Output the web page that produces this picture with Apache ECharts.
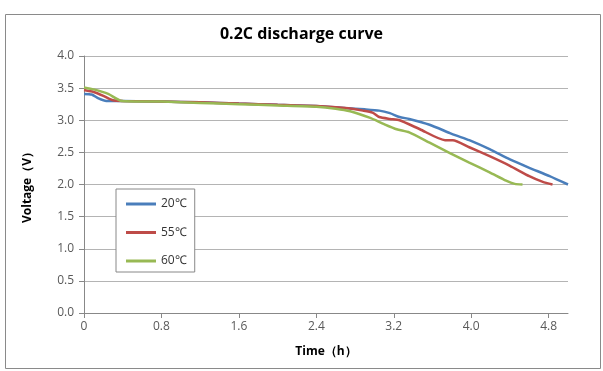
<!DOCTYPE html>
<html>
<head>
<meta charset="utf-8">
<script src="https://cdn.jsdelivr.net/npm/echarts@6/dist/echarts.min.js"></script>
<style>html,body{margin:0;padding:0;background:#fff}#c{width:603px;height:371px}</style>
</head>
<body>
<div id="c"></div>
<script>
const xTicks = [0, 0.8, 1.6, 2.4, 3.2, 4.0, 4.8];
const yTicks = [0, 0.5, 1.0, 1.5, 2.0, 2.5, 3.0, 3.5, 4.0];

const t20 = [0, 0.08, 0.15, 0.23, 0.4, 0.8, 1.2, 1.6, 2.0, 2.4, 2.7, 2.9, 3.05, 3.16, 3.26, 3.36, 3.57, 3.78, 3.85, 3.98, 4.19, 4.40, 4.60, 4.81, 5.0];
const v20 = [3.41, 3.40, 3.34, 3.30, 3.30, 3.29, 3.28, 3.26, 3.24, 3.22, 3.19, 3.17, 3.15, 3.11, 3.05, 3.02, 2.93, 2.80, 2.76, 2.69, 2.55, 2.39, 2.26, 2.13, 2.00];

const t55 = [0, 0.1, 0.2, 0.3, 0.4, 0.8, 1.2, 1.6, 2.0, 2.4, 2.7, 2.88, 2.98, 3.05, 3.16, 3.26, 3.47, 3.73, 3.81, 3.98, 4.19, 4.40, 4.60, 4.74, 4.84];
const v55 = [3.47, 3.44, 3.38, 3.31, 3.30, 3.29, 3.28, 3.26, 3.24, 3.22, 3.19, 3.15, 3.12, 3.05, 3.02, 3.00, 2.86, 2.69, 2.69, 2.58, 2.44, 2.29, 2.13, 2.04, 2.00];

const t60 = [0, 0.1, 0.25, 0.39, 0.8, 1.2, 1.6, 2.0, 2.4, 2.6, 2.75, 2.95, 3.1, 3.23, 3.36, 3.57, 3.78, 3.98, 4.19, 4.36, 4.45, 4.53];
const v60 = [3.51, 3.48, 3.41, 3.30, 3.29, 3.27, 3.25, 3.23, 3.21, 3.18, 3.14, 3.04, 2.94, 2.86, 2.81, 2.65, 2.49, 2.34, 2.19, 2.06, 2.01, 2.00];

const seriesNames = ['20℃', '55℃', '60℃'];
const colors = ['#4A7EBB', '#BE4B48', '#98B954'];

const pair = (t, v) => t.map((x, i) => [x, v[i]]);
const datasets = [pair(t20, v20), pair(t55, v55), pair(t60, v60)];

const font = '"Open Sans", "Liberation Sans", sans-serif';
const chart = echarts.init(document.getElementById('c'), null, {renderer: 'canvas'});
chart.setOption({
  animation: false,
  backgroundColor: '#fff',
  color: colors,
  title: {
    text: '0.2C discharge curve',
    left: 'center',
    top: 21,
    textStyle: {fontFamily: font, fontSize: 16, fontWeight: 'bold', color: '#000'}
  },
  graphic: [{
    type: 'rect', left: 3, top: 12, shape: {width: 595, height: 354},
    style: {fill: 'none', stroke: '#8a8a8a', lineWidth: 1}, z: -1
  }],
  grid: {left: 84, right: 35, top: 56, bottom: 58},
  legend: {
    orient: 'vertical', left: 116, top: 189,
    data: seriesNames.map(n => ({name: n, icon: 'rect'})),
    itemWidth: 30, itemHeight: 3, itemGap: 14.5, itemTextGap: 3,
    padding: [8, 8, 4, 10],
    borderColor: '#888', borderWidth: 1, backgroundColor: '#fff',
    textStyle: {fontFamily: font, fontSize: 12, lineHeight: 14, color: '#333'}
  },
  xAxis: {
    type: 'value', min: 0, max: 5.0, interval: 0.8,
    name: 'Time（h）', nameLocation: 'middle', nameGap: 33,
    nameTextStyle: {fontFamily: font, fontSize: 12, fontWeight: 'bold', color: '#000'},
    axisLine: {show: true, lineStyle: {color: '#888'}},
    axisTick: {show: true, length: 5, lineStyle: {color: '#888'}, customValues: xTicks},
    axisLabel: {customValues: xTicks, fontFamily: font, fontSize: 12, color: '#595959', margin: 8,
      formatter: v => v === 0 ? '0' : v.toFixed(1)},
    splitLine: {show: false}
  },
  yAxis: {
    type: 'value', min: 0, max: 4.0, interval: 0.5,
    name: 'Voltage（V）', nameLocation: 'middle', nameGap: 50, nameRotate: 90,
    nameTextStyle: {fontFamily: font, fontSize: 12, fontWeight: 'bold', color: '#000'},
    axisLine: {show: true, lineStyle: {color: '#888'}},
    axisTick: {show: true, length: 5, lineStyle: {color: '#888'}},
    axisLabel: {fontFamily: font, fontSize: 12, color: '#595959', margin: 10,
      formatter: v => v.toFixed(1)},
    splitLine: {show: true, lineStyle: {color: '#b4b4b4', width: 1}}
  },
  series: seriesNames.map((n, i) => ({
    name: n, type: 'line', data: datasets[i], showSymbol: false, symbol: 'none',
    smooth: 0.2, lineStyle: {width: 2.5, color: colors[i]}
  }))
});
</script>
</body>
</html>
